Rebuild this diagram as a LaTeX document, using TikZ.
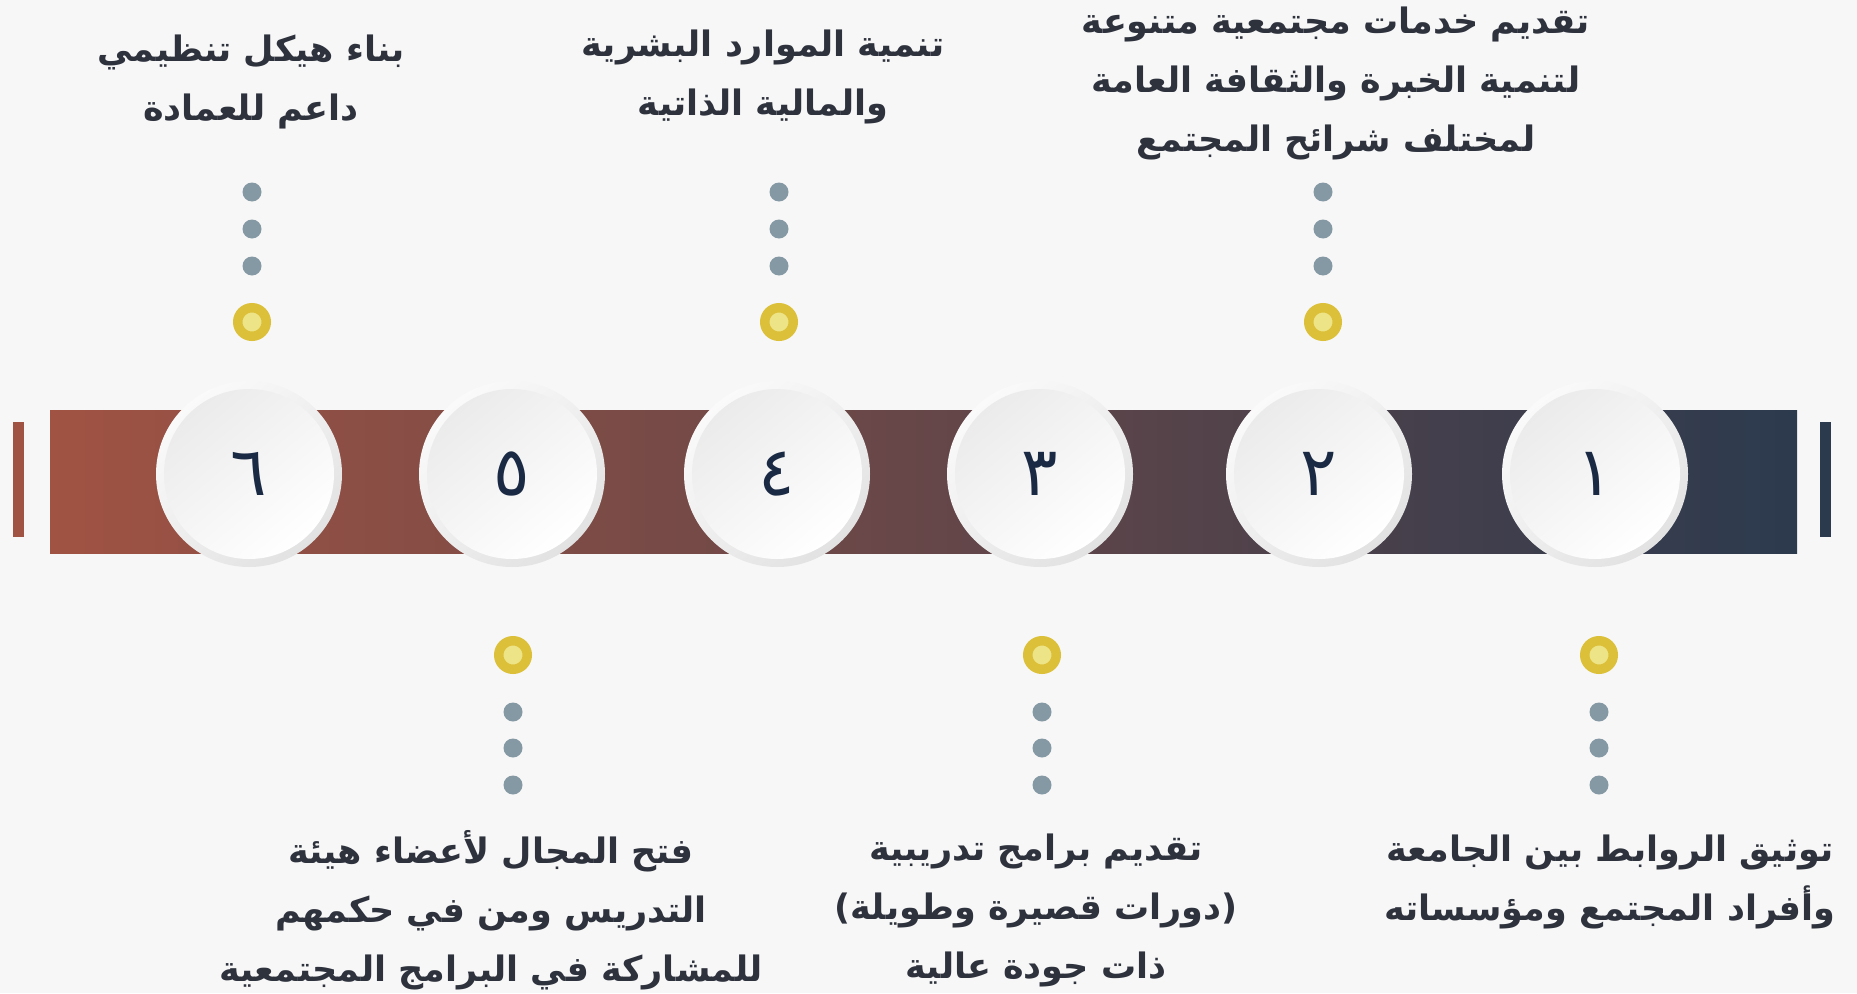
\documentclass[tikz,border=0pt]{standalone}
\usepackage{fontspec}
\TeXXeTstate=1
\newfontfamily\arabicfont[Script=Arabic]{DejaVu Sans}
\definecolor{bgc}{HTML}{F7F7F7}
\definecolor{barL}{HTML}{A05343}
\definecolor{barR}{HTML}{2C3A4E}
\definecolor{txt}{HTML}{2E323D}
\definecolor{numc}{HTML}{1B2A44}
\definecolor{dotc}{HTML}{8499A4}
\definecolor{yelo}{HTML}{DCC03A}
\definecolor{yeli}{HTML}{EDE488}
\definecolor{ringA}{HTML}{FAFAFA}
\definecolor{ringB}{HTML}{E2E2E2}
\definecolor{inA}{HTML}{EBEBEB}
\begin{document}
\begin{tikzpicture}[x=1pt,y=-1pt,
  lbl/.style={font=\arabicfont\bfseries\fontsize{35}{59}\selectfont, text=txt, align=center, inner sep=0pt},
  num/.style={circle, minimum size=172pt, inner sep=0pt, font=\arabicfont\fontsize{68}{68}\selectfont, text=numc},
  gdot/.style={circle, fill=dotc, minimum size=19pt, inner sep=0pt},
  ydot/.style={circle, fill=yeli, draw=yelo, line width=9.5pt, minimum size=28.5pt, inner sep=0pt},
  sidebar/.style={inner sep=0pt, minimum width=11pt, minimum height=115pt}
]
\fill[bgc] (0,0) rectangle (1857,993);
\useasboundingbox (0,0) rectangle (1857,993);
% side bars and main bar
\node[sidebar, fill=barL] (sl) at (18.5,479.5) {};
\node[sidebar, fill=barR] (sr) at (1825.5,479.5) {};
\shade[left color=barL, right color=barR] (50,410) rectangle (1797,553);
% circles
\foreach \x/\d/\n in {1595/١/n1, 1319/٢/n2, 1040/٣/n3, 777/٤/n4, 512/٥/n5, 249/٦/n6}{
  \shade[top color=ringA, bottom color=ringB, shading angle=40] (\x,474) circle (93);
  \shade[top color=inA, bottom color=white, shading angle=40] (\x,474) circle (85);
  \node[num] (\n) at (\x,474) {\beginR\d\endR};
}
% top dot groups
\foreach \x/\k in {252/a, 779/b, 1323/c}{
  \node[gdot] (d\k1) at (\x,192) {};
  \node[gdot] (d\k2) at (\x,229) {};
  \node[gdot] (d\k3) at (\x,266) {};
  \node[ydot] (y\k) at (\x,322) {};
}
% bottom dot groups
\foreach \x/\k in {513/d, 1042/e, 1599/f}{
  \node[ydot] (y\k) at (\x,655) {};
  \node[gdot] (d\k1) at (\x,712) {};
  \node[gdot] (d\k2) at (\x,748) {};
  \node[gdot] (d\k3) at (\x,785) {};
}
% labels
\node[lbl] (t6) at (251,82) {\beginR بناء هيكل تنظيمي\endR\\\beginR داعم للعمادة\endR};
\node[lbl] (t4) at (763,77) {\beginR تنمية الموارد البشرية\endR\\\beginR والمالية الذاتية\endR};
\node[lbl] (t2) at (1336,83) {\beginR تقديم خدمات مجتمعية متنوعة\endR\\\beginR لتنمية الخبرة والثقافة العامة\endR\\\beginR لمختلف شرائح المجتمع\endR};
\node[lbl] (t5) at (491,910) {\beginR فتح المجال لأعضاء هيئة\endR\\\beginR التدريس ومن في حكمهم\endR\\\beginR للمشاركة في البرامج المجتمعية\endR};
\node[lbl] (t3) at (1036,910) {\beginR تقديم برامج تدريبية\endR\\\beginR (دورات قصيرة وطويلة)\endR\\\beginR ذات جودة عالية\endR};
\node[lbl] (t1) at (1610,882) {\beginR توثيق الروابط بين الجامعة\endR\\\beginR وأفراد المجتمع ومؤسساته\endR};
\end{tikzpicture}
\end{document}
